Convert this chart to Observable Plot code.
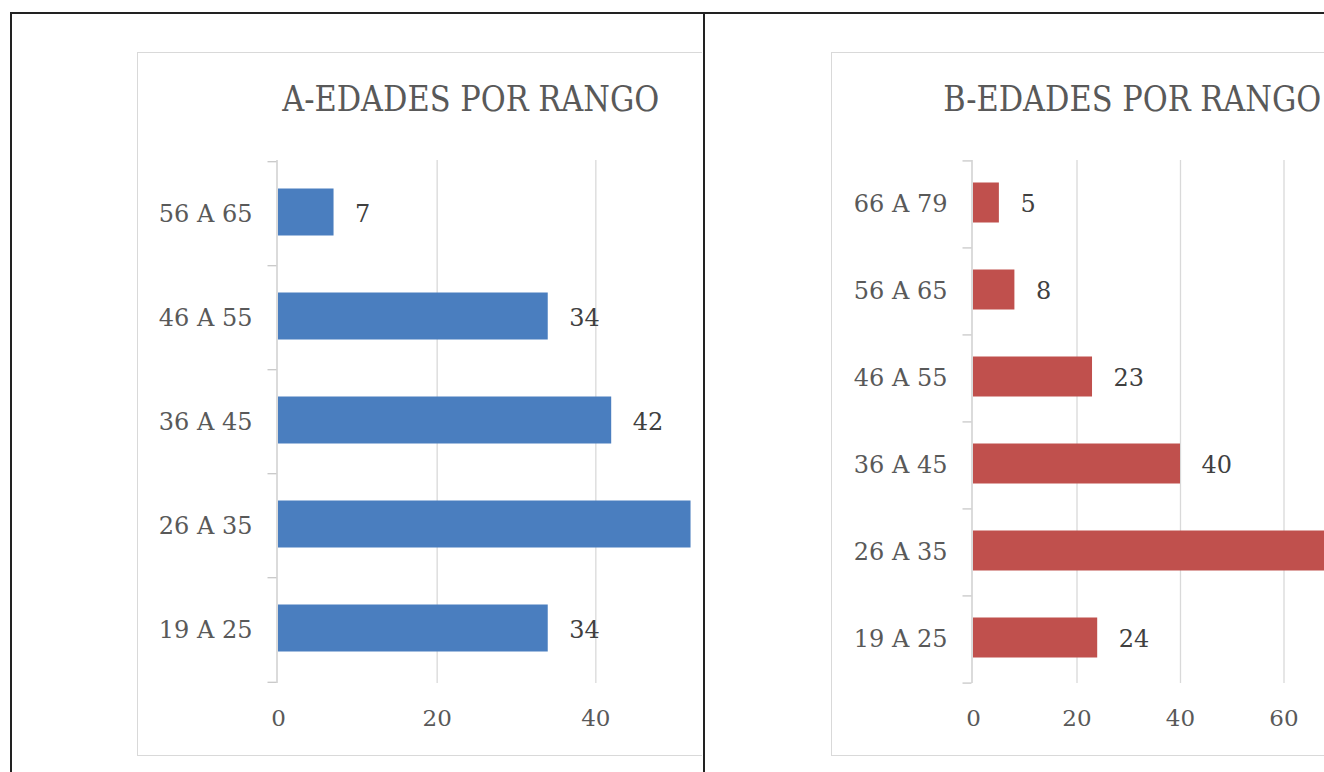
<!DOCTYPE html>
<html>
<head>
<meta charset="utf-8">
<script src="https://cdn.jsdelivr.net/npm/d3@7"></script>
<script src="https://cdn.jsdelivr.net/npm/@observablehq/plot@0.6"></script>
<style>
  html, body { margin: 0; padding: 0; background: #fff; }
  #wrap { position: relative; width: 1324px; height: 772px; overflow: hidden; background: #fff; }
  .cell { position: absolute; top: 0; height: 772px; overflow: hidden; }
  .frame { position: absolute; border: 1.5px solid #d9d9d9; box-sizing: border-box; background: #fff; }
  .plot { position: absolute; }
  .title { position: absolute; text-align: center; font-family: "DejaVu Serif"; font-size: 35px; color: #595959; white-space: nowrap; }
  .title span { display: inline-block; transform: scaleX(0.87); transform-origin: center; }
  .bline { position: absolute; background: #222; }
</style>
</head>
<body>
<div id="wrap">
  <div class="cell" id="cellA" style="left:0; width:702px;"></div>
  <div class="cell" id="cellB" style="left:706px; width:618px;"></div>
  <div class="bline" style="left:10px; top:12px; width:1314px; height:2px;"></div>
  <div class="bline" style="left:10px; top:12px; width:2px; height:760px;"></div>
  <div class="bline" style="left:703px; top:12px; width:2px; height:760px;"></div>
</div>
<script>
// ---- data ----
const titleA = "A-EDADES POR RANGO";
const catsA = ["19 A 25", "26 A 35", "36 A 45", "46 A 55", "56 A 65"];
const valsA = [34, 52, 42, 34, 7];
const xTicksA = [0, 20, 40];      // tick labels visible in the cropped picture
const xMaxA = 60;

const titleB = "B-EDADES POR RANGO";
const catsB = ["19 A 25", "26 A 35", "36 A 45", "46 A 55", "56 A 65", "66 A 79"];
const valsB = [24, 70, 40, 23, 8, 5];
const xTicksB = [0, 20, 40, 60];
const xMaxB = 80;

function makeChart(cell, cellLeft, cellRight, cfg) {
  const {title, cats, vals, ticks, xMax, color, left, top, width, height,
         marginLeft, marginRight, marginTop, marginBottom} = cfg;
  const data = cats.map((c, i) => ({c, v: vals[i]}));
  const plotW = width - marginLeft - marginRight;
  const plotH = height - marginTop - marginBottom;
  const step = plotH / cats.length;
  const k = plotW / xMax;
  const tickLen = 9;
  const domainY = cats.slice().reverse();
  // value labels that would fall outside the cropped picture are not shown (as in the reference)
  const visible = d => left + marginLeft + d.v * k + 21 + 30 < cellRight;

  const frame = document.createElement("div");
  frame.className = "frame";
  frame.style.left = (left - cellLeft) + "px";
  frame.style.top = top + "px";
  frame.style.width = width + "px";
  frame.style.height = height + "px";
  cell.appendChild(frame);

  const chart = Plot.plot({
    width, height, marginLeft, marginRight, marginTop, marginBottom,
    style: {fontFamily: "DejaVu Serif", fontSize: "24px", color: "#595959", background: "transparent", overflow: "visible"},
    x: {domain: [0, xMax], axis: null},
    y: {domain: domainY, paddingInner: 0.545, paddingOuter: 0.2725, axis: null},
    marks: [
      Plot.gridX({ticks: d3.range(20, xMax + 1, 20), stroke: "#d9d9d9", strokeOpacity: 1, strokeWidth: 1.3}),
      Plot.ruleX([0], {stroke: "#c8c8c8", strokeWidth: 1.3, dx: -1.5}),
      Plot.ruleY(domainY, {y: d => d, x1: -tickLen / k, x2: 0, dx: -1.5, dy: -step / 2, stroke: "#c8c8c8", strokeWidth: 1.3}),
      Plot.ruleY([domainY[domainY.length - 1]], {y: d => d, x1: -tickLen / k, x2: 0, dx: -1.5, dy: step / 2, stroke: "#c8c8c8", strokeWidth: 1.3}),
      Plot.barX(data, {x: "v", y: "c", fill: color, dy: -1.5}),
      Plot.text(data.filter(visible), {x: "v", y: "c", text: d => String(d.v), dx: 21, textAnchor: "start", fill: "#404040", fontSize: 24}),
      Plot.axisY({tickSize: 0, tickPadding: 26, label: null, fontSize: 24, fill: "#595959"}),
      Plot.axisX({ticks, tickSize: 0, tickPadding: 26, label: null, fontSize: 23, fill: "#595959"})
    ]
  });
  chart.classList.add("plot");
  chart.style.left = (left - cellLeft) + "px";
  chart.style.top = top + "px";
  cell.appendChild(chart);

  const t = document.createElement("div");
  t.className = "title";
  t.style.left = (left - cellLeft) + "px";
  t.style.width = width + "px";
  t.style.top = (top + 27) + "px";
  t.innerHTML = "<span></span>";
  t.firstChild.textContent = title;
  cell.appendChild(t);
}

makeChart(document.getElementById("cellA"), 0, 702, {
  title: titleA, cats: catsA, vals: valsA, ticks: xTicksA, xMax: xMaxA, color: "#4a7ebf",
  left: 137, top: 52, width: 668, height: 704,
  marginLeft: 141, marginRight: 51, marginTop: 108, marginBottom: 73
});
makeChart(document.getElementById("cellB"), 706, 1324, {
  title: titleB, cats: catsB, vals: valsB, ticks: xTicksB, xMax: xMaxB, color: "#c0504d",
  left: 831, top: 52, width: 602, height: 704,
  marginLeft: 142, marginRight: 46, marginTop: 108, marginBottom: 73
});
</script>
</body>
</html>
